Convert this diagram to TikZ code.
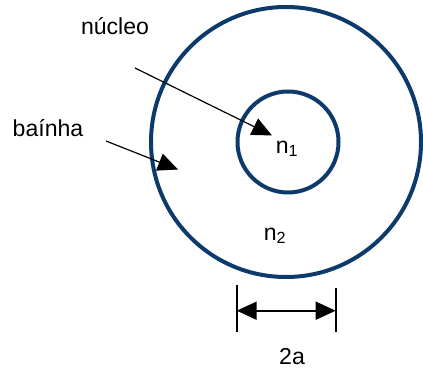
\documentclass[tikz,border=0pt]{standalone}
\usepackage{fontspec}
\setmainfont{Liberation Sans}
\usetikzlibrary{arrows.meta}
\definecolor{ring}{HTML}{0B3A6B}
\begin{document}
\begin{tikzpicture}[x=0.75pt,y=-0.75pt,
  ringline/.style={draw=ring,line width=3pt},
  pointer/.style={draw=black,line width=0.9pt,-{Triangle[length=15pt,width=13.5pt]}},
  dimarrow/.style={draw=black,line width=1.3pt,{Triangle[length=15pt,width=13.5pt]}-{Triangle[length=15pt,width=13.5pt]}},
  tick/.style={draw=black,line width=1.3pt},
  lbl/.style={inner sep=0pt,font=\fontsize{17.3}{20}\selectfont}]
\useasboundingbox (0,0) rectangle (423,373);
\draw[ringline] (286,142) circle (135);
\draw[ringline] (288,142) circle (50.5);
\node[lbl] (nucleo) at (115,26) {núcleo};
\node[lbl] (bainha) at (48,128) {baínha};
\node[lbl] (n1) at (287,149) {n\textsubscript{1}};
\node[lbl] (n2) at (275,236) {n\textsubscript{2}};
\node[lbl] (twoa) at (292,357) {2a};
\coordinate (a1) at (135,68);
\coordinate (a2) at (272,135.5);
\coordinate (b1) at (106,141);
\coordinate (b2) at (178,169.5);
\draw[pointer] (a1) -- (a2);
\draw[pointer] (b1) -- (b2);
\coordinate (lt) at (236.7,285);
\coordinate (lb) at (236.7,332);
\coordinate (rt) at (335.7,288);
\coordinate (rb) at (335.7,332);
\draw[tick] (lt) -- (lb);
\draw[tick] (rt) -- (rb);
\coordinate (dl) at (236.7,310.7);
\coordinate (dr) at (335.7,310.7);
\draw[dimarrow] (dl) -- (dr);
\end{tikzpicture}
\end{document}
